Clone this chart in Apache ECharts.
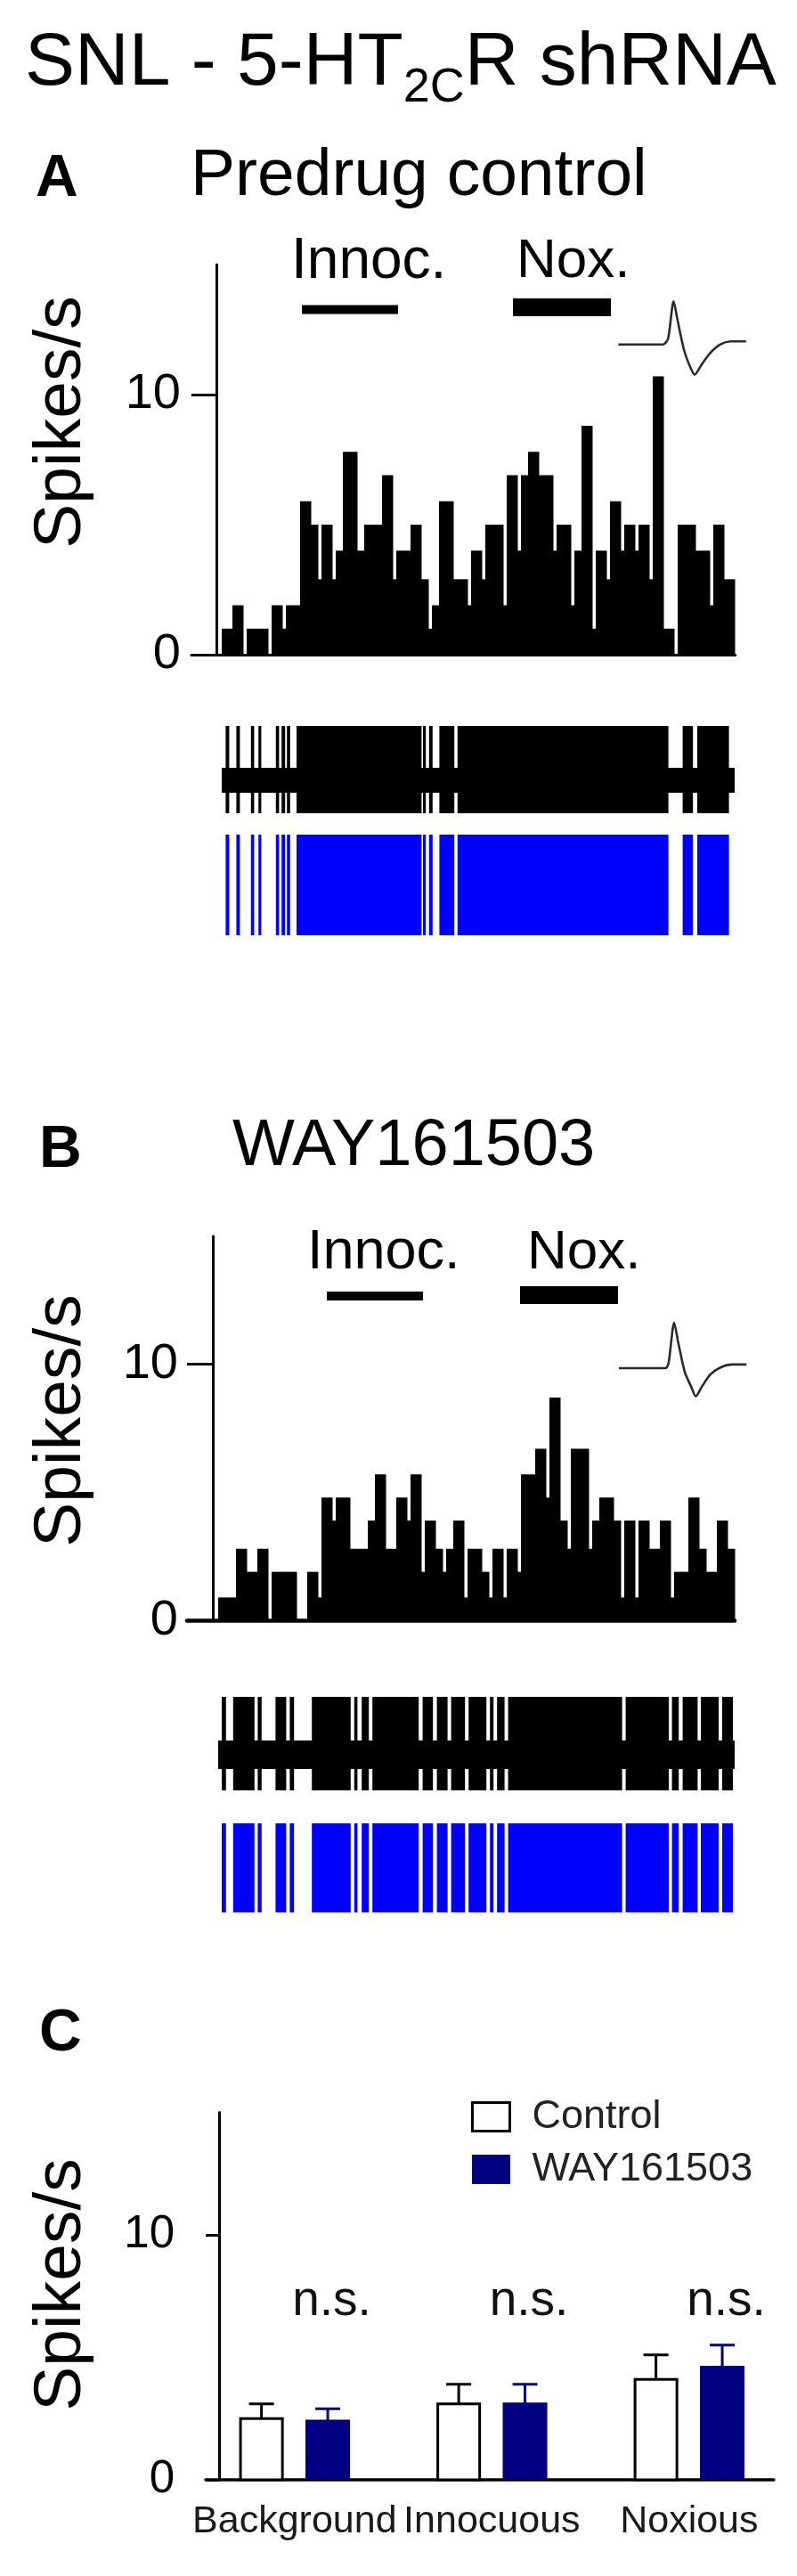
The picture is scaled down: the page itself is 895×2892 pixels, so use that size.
<!DOCTYPE html>
<html><head><meta charset="utf-8">
<script src="https://cdn.jsdelivr.net/npm/echarts@6/dist/echarts.min.js"></script>
<style>html,body{margin:0;padding:0;background:#fff}#c{width:895px;height:2892px}</style>
</head><body><div id="c"></div>
<script>
// ---------------- DATA ----------------
// Peri-stimulus histograms (spikes/s per 1-s bin)
const histA = [1.0,1.0,1.0, 1.9,1.9,1.9, 0, 1.0,1.0,1.0,1.0,1.0,1.0, 0, 1.9,1.9,1.9, 1.0, 1.9,1.9,1.9,1.9,
 5.9,5.9,5.9, 5.0,5.0, 2.9, 5.0,5.0,5.0, 2.9, 4.0,4.0, 7.8,7.8,7.8,7.8, 4.0,4.0, 5.0,5.0,5.0,5.0,5.0,
 6.9,6.9,6.9, 2.9, 4.0,4.0,4.0,4.0, 5.0,5.0,5.0, 2.9,2.9, 1.0, 1.9,1.9, 5.9,5.9,5.9,5.9, 2.9,2.9,2.9,2.9, 1.9,
 4.0,4.0,4.0, 2.9, 5.0,5.0,5.0,5.0,5.0, 1.9, 6.9,6.9,6.9, 4.0, 6.9,6.9, 7.8,7.8,7.8, 6.9,6.9,6.9,6.9, 4.0,
 5.0,5.0,5.0,5.0, 1.9, 4.0,4.0, 8.8,8.8,8.8, 1.0, 4.0,4.0,4.0, 2.9, 5.9,5.9,5.9, 4.0, 5.0,5.0,5.0, 4.0, 5.0,5.0,5.0, 2.9,
 10.7,10.7,10.7, 1.0,1.0,1.0, 0, 5.0,5.0,5.0,5.0,5.0, 4.0,4.0,4.0,4.0, 1.9, 5.0,5.0,5.0, 2.9,2.9,2.9];
const histB = [0.9,0.9,0.9,0.9,0.9, 2.8,2.8,2.8, 1.9,1.9,1.9, 2.8,2.8,2.8, 0, 1.9,1.9,1.9,1.9,1.9,1.9,1.9, 0,0,0, 1.9,1.9,1.9, 0.9,
 4.8,4.8,4.8, 3.9, 4.8,4.8,4.8,4.8, 2.8,2.8,2.8,2.8,2.8, 3.9,3.9, 5.7,5.7,5.7, 2.8,2.8,2.8, 4.8,4.8,4.8, 3.9, 5.7,5.7,5.7, 1.9,
 3.9,3.9,3.9, 2.8,2.8, 1.9, 2.8,2.8, 3.9,3.9,3.9, 0.9, 2.8,2.8,2.8,2.8, 1.9,1.9, 0.9, 2.8,2.8,2.8, 0.9, 2.8,2.8,2.8, 1.9,
 5.7,5.7,5.7,5.7, 6.7,6.7,6.7, 4.8, 8.7,8.7,8.7, 3.9,3.9, 2.8, 6.7,6.7,6.7,6.7,6.7, 2.8, 3.9,3.9, 4.8,4.8,4.8,4.8, 3.9,3.9, 0.9,
 3.9,3.9,3.9, 0.9, 3.9,3.9,3.9, 2.8,2.8,2.8, 3.9,3.9,3.9, 0.9, 1.9,1.9,1.9,1.9, 4.8,4.8,4.8, 2.8,2.8, 1.9,1.9,1.9, 3.9,3.9,3.9, 2.8,2.8];
// stimulus periods (s): [start, end]  -> innocuous, noxious
const stimA = [[22.5, 49.5], [81.75, 109.25]];
const stimB = [[30.5, 57.5], [84.75, 112.25]];
const stimNames = ['Innoc.', 'Nox.'];
// firing episodes (s) seen in the raw trace / raster
const spikesA = [[1.1,2.1],[4.1,5.1],[8.2,9.1],[10.3,11.1],[15.2,16.1],[16.8,17.8],[18.3,19.2],[21.0,56.1],
 [56.5,57.3],[58.2,59.2],[61.1,65.3],[66.2,125.4],[129.4,132.3],[133.5,142.4]];
const spikesB = [[1.0,2.2],[4.2,10.2],[11.1,12.2],[16.1,19.1],[20.1,21.3],[26.3,37.2],[38.2,39.1],[40.3,42.3],
 [43.3,56.3],[57.4,60.3],[61.4,64.4],[65.4,69.3],[70.3,75.3],[76.3,77.3],[78.3,80.4],[81.4,113.4],
 [114.4,126.5],[127.4,129.3],[130.4,134.6],[135.5,140.5],[141.5,144.5]];
// raw trace amplitude levels (a.u.): spike trough, noise low, noise high, spike peak
const traceLevelsA = [-2.64, -1, 1, 4.36];
const traceLevelsB = [-2.5, -1, 1, 4.06];
// average spike waveform (ms, normalised amplitude)
const waveTimeA = [0, 0.89, 0.99, 1.10, 1.18, 1.31, 1.44, 1.52, 1.65, 1.82, 2.03, 2.24, 2.54];
const waveAmpA  = [0, 0, 0.14, 1.0, 0.55, -0.14, -0.55, -0.70, -0.48, -0.21, 0, 0.07, 0.07];
const waveTimeB = [0, 0.93, 0.99, 1.10, 1.18, 1.31, 1.44, 1.53, 1.65, 1.82, 2.03, 2.24, 2.54];
const waveAmpB  = [0, 0, 0.12, 1.0, 0.57, -0.08, -0.41, -0.62, -0.41, -0.14, 0.02, 0.08, 0.08];
// panel C summary
const categories = ['Background', 'Innocuous', 'Noxious'];
const controlMean = [2.5, 3.1, 4.1];
const controlSem  = [0.6, 0.8, 1.0];
const wayMean = [2.4, 3.1, 4.6];
const waySem  = [0.5, 0.8, 0.9];
const sigLabels = ['n.s.', 'n.s.', 'n.s.'];
const yTicks = [0, 10];

// ---------------- LAYOUT ----------------
const FONT = '"Liberation Sans", Arial, Helvetica, sans-serif';
const OFF = 1.5;          // first bin starts 1.5 bin widths right of the y axis
const GC = 0.383, BO = 0.168, BW = 0.226; // panel C: group offset, bar offset, bar width
const NAVY = '#000080';

function rectPx(a, b, fill) {
  return {type:'rect', shape:{x:Math.min(a[0],b[0]), y:Math.min(a[1],b[1]), width:Math.abs(b[0]-a[0]), height:Math.abs(b[1]-a[1])}, style:{fill}};
}
function histSeries(g, data) {
  return {type:'custom', xAxisIndex:g, yAxisIndex:g, z:3, silent:true, data:data.map((v,i)=>[i,v]),
    renderItem:(p,api)=>{ const i=api.value(0), v=api.value(1); if(!v) return null;
      const a=api.coord([OFF+i, v]), b=api.coord([OFF+i+1, 0]);
      return {type:'rect', shape:{x:a[0], y:a[1], width:b[0]-a[0]+0.5, height:b[1]-a[1]}, style:{fill:'#000'}}; }};
}
function stimSeries(g, data, levels) {
  return {type:'custom', xAxisIndex:g, yAxisIndex:g, silent:true, data:data.map((s,k)=>[s[0], s[1], k]),
    renderItem:(p,api)=>{ const k=api.value(2); const th = k===0 ? 10 : 20;
      const a=api.coord([OFF+api.value(0), levels[k]]), b=api.coord([OFF+api.value(1), levels[k]]);
      return {type:'rect', shape:{x:a[0], y:a[1]-th/2, width:b[0]-a[0], height:th}, style:{fill:'#000'}}; }};
}
function bandSeries(g, nBins, lv) {
  return {type:'custom', xAxisIndex:g, yAxisIndex:g, silent:true, data:[[0, nBins]],
    renderItem:(p,api)=> rectPx(api.coord([OFF+api.value(0), lv[2]]), api.coord([OFF+api.value(1), lv[1]]), '#000')};
}
function spikeSeries(g, data, lo, hi, color) {
  return {type:'custom', xAxisIndex:g, yAxisIndex:g, silent:true, data:data,
    renderItem:(p,api)=> rectPx(api.coord([OFF+api.value(0), hi]), api.coord([OFF+api.value(1), lo]), color)};
}
function waveSeries(g, t, v) {
  return {type:'line', xAxisIndex:g, yAxisIndex:g, silent:true, data:t.map((x,i)=>[x, v[i]]), showSymbol:false,
    smooth:0.25, lineStyle:{color:'#2a2a2a', width:2.6}};
}
function cSeries(name, means, sems, side, fill, stroke) {
  return {type:'custom', name, xAxisIndex:8, yAxisIndex:8, silent:true, z:3,
    itemStyle:{color:fill, borderColor:stroke, borderWidth:3},
    data: means.map((m,i)=>[i, m, sems[i]]),
    renderItem:(p,api)=>{ const i=api.value(0), m=api.value(1), s=api.value(2);
      const cx = GC + i + side*BO;
      const top = api.coord([cx, m]), base = api.coord([cx, 0]), cap = api.coord([cx, m+s]);
      const w = api.size([BW, 0])[0], cw = 28;
      const kids = [];
      kids.push({type:'line', shape:{x1:top[0], y1:top[1], x2:cap[0], y2:cap[1]}, style:{stroke, lineWidth:3}});
      kids.push({type:'line', shape:{x1:cap[0]-cw/2, y1:cap[1], x2:cap[0]+cw/2, y2:cap[1]}, style:{stroke, lineWidth:3}});
      if (fill === '#fff') {
        kids.push({type:'rect', shape:{x:top[0]-w/2+1.5, y:top[1], width:w-3, height:base[1]-top[1]}, style:{fill:'#fff', stroke:'#000', lineWidth:3}});
      } else {
        kids.push({type:'rect', shape:{x:top[0]-w/2, y:top[1]-1.5, width:w, height:base[1]-top[1]+1.5}, style:{fill}});
      }
      return {type:'group', children:kids}; }};
}
const sigSeries = {type:'custom', xAxisIndex:8, yAxisIndex:8, silent:true, data: sigLabels.map((s,i)=>[i, 6.6]),
  renderItem:(p,api)=>{ const i=api.value(0); const c = api.coord([GC+i+BO+0.02, api.value(1)]);
    return {type:'text', x:c[0], y:c[1]-19, style:{text:sigLabels[i], font:'55px '+FONT, fill:'#111', align:'center', textAlign:'center', verticalAlign:'middle', textVerticalAlign:'middle'}}; }};
const catSeries = {type:'custom', xAxisIndex:8, yAxisIndex:8, silent:true, data: categories.map((c,i)=>[i, 0]),
  renderItem:(p,api)=>{ const i=api.value(0); const c = api.coord([GC+i, 0]);
    return {type:'text', x:c[0], y:c[1]+47, style:{text:categories[i], font:'43px '+FONT, fill:'#1a1a1a', align:'center', textAlign:'center', verticalAlign:'middle', textVerticalAlign:'middle'}}; }};

// axis helpers
function hidX(g, min, max){ return {type:'value', gridIndex:g, min, max, show:false}; }
function hidY(g, min, max){ return {type:'value', gridIndex:g, min, max, show:false}; }
function histX(g, min, max, lw){ return {type:'value', gridIndex:g, min, max, axisLine:{lineStyle:{color:'#000', width:lw}}, axisTick:{show:false}, axisLabel:{show:false}, splitLine:{show:false}}; }
function histY(g, tickLen, fs, margin){ return {type:'value', gridIndex:g, min:yTicks[0], max:15, interval:yTicks[1]-yTicks[0],
  axisLine:{show:true, lineStyle:{color:'#000', width:3}},
  axisTick:{show:true, length:tickLen, customValues:yTicks, lineStyle:{color:'#000', width:3}},
  axisLabel:{fontSize:fs, color:'#000', fontFamily:FONT, margin, customValues:yTicks}, splitLine:{show:false}}; }

// text helpers
const ctx = document.createElement('canvas').getContext('2d');
function tw(t, f){ ctx.font = f; return ctx.measureText(t).width; }
function T(text, x, y, size, o){ o = o||{}; const f = (o.bold?'bold ':'') + size + 'px ' + FONT;
  return {type:'text', x, y, rotation:o.rot||0, style:{text, font:f, fill:o.color||'#000', align:o.align||'left', textAlign:o.align||'left', verticalAlign:'middle', textVerticalAlign:'middle'}}; }

const fMain = '84px ' + FONT, fSub = '54px ' + FONT;
const t1 = 'SNL - 5-HT', t2 = '2C', t3 = 'R shRNA';
const x0 = 28, x1 = x0 + tw(t1, fMain), x2 = x1 + tw(t2, fSub);

const chart = echarts.init(document.getElementById('c'), null, {renderer:'canvas', width:895, height:2892});
chart.setOption({
  animation:false,
  backgroundColor:'#fff',
  grid:[
    {left:215, top:297, width:610.7, height:438},          // 0 hist A
    {left:694.4, top:338.3, width:143.3, height:82.3},     // 1 wave A
    {left:215, top:815, width:610.7, height:98},           // 2 trace A
    {left:215, top:937, width:610.7, height:113},          // 3 raster A
    {left:210, top:1387.9, width:615, height:431.4},       // 4 hist B
    {left:695, top:1485, width:143.3, height:82.6},        // 5 wave B
    {left:210, top:1905, width:615, height:105},           // 6 trace B
    {left:210, top:2047, width:615, height:100},           // 7 raster B
    {left:231, top:2371.5, width:638, height:412.5}        // 8 panel C
  ],
  xAxis:[
    histX(0, -7, 145.675, 3), hidX(1, 0, 2.54), hidX(2, -7, 145.675), hidX(3, -7, 145.675),
    histX(4, -7.25, 146.5, 4.5), hidX(5, 0, 2.54), hidX(6, -7.25, 146.5), hidX(7, -7.25, 146.5),
    histX(8, -0.0677, 2.8126, 3.5)
  ],
  yAxis:[
    histY(0, 28, 56, 12), hidY(1, -0.70, 1.0), hidY(2, traceLevelsA[0], traceLevelsA[3]), hidY(3, 0, 1),
    histY(4, 29, 56, 10), hidY(5, -0.62, 1.0), hidY(6, traceLevelsB[0], traceLevelsB[3]), hidY(7, 0, 1),
    histY(8, 15, 51, 35)
  ],
  legend:{left:529, top:2354, orient:'vertical', padding:0, itemWidth:42, itemHeight:32, itemGap:14, icon:'rect', selectedMode:false,
    textStyle:{fontSize:45, color:'#222', fontFamily:FONT, lineHeight:34, padding:[0,0,0,20]},
    data:[{name:'Control', itemStyle:{color:'#fff', borderColor:'#000', borderWidth:3}},
          {name:'WAY161503', itemStyle:{color:NAVY, borderColor:NAVY, borderWidth:1}}]},
  series:[
    histSeries(0, histA), stimSeries(0, stimA, [13.27, 13.36]), waveSeries(1, waveTimeA, waveAmpA),
    bandSeries(2, histA.length, traceLevelsA), spikeSeries(2, spikesA, traceLevelsA[0], traceLevelsA[3], '#000'),
    spikeSeries(3, spikesA, 0, 1, '#0000ff'),
    histSeries(4, histB), stimSeries(4, stimB, [12.67, 12.7]), waveSeries(5, waveTimeB, waveAmpB),
    bandSeries(6, histB.length, traceLevelsB), spikeSeries(6, spikesB, traceLevelsB[0], traceLevelsB[3], '#000'),
    spikeSeries(7, spikesB, 0, 1, '#0000ff'),
    cSeries('Control', controlMean, controlSem, -1, '#fff', '#000'),
    cSeries('WAY161503', wayMean, waySem, 1, NAVY, NAVY),
    sigSeries, catSeries
  ],
  graphic:[
    T(t1, x0, 72, 84), T(t2, x1, 99, 54), T(t3, x2, 72, 84),
    T('A', 40, 202, 66, {bold:true}), T('Predrug control', 214, 198, 75),
    T(stimNames[0], 327, 294, 64), T(stimNames[1], 580, 294, 62),
    T('Spikes/s', 69, 474, 75, {rot:Math.PI/2, align:'center'}),
    T('B', 44, 1292, 66, {bold:true}), T('WAY161503', 261, 1288, 74),
    T(stimNames[0], 345, 1407, 63), T(stimNames[1], 592, 1407, 62),
    T('Spikes/s', 69, 1595, 75, {rot:Math.PI/2, align:'center'}),
    T('C', 44, 2284, 66, {bold:true}),
    T('Spikes/s', 69, 2565, 75, {rot:Math.PI/2, align:'center'})
  ]
});
</script></body></html>
